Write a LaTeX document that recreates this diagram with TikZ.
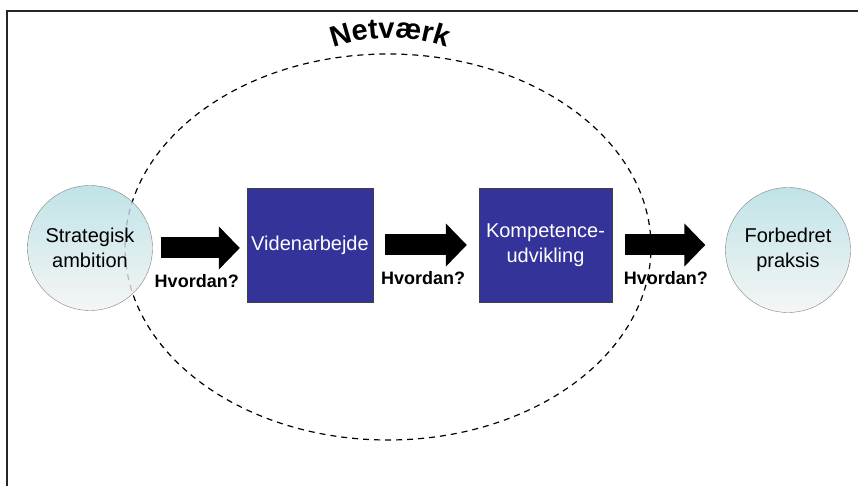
\documentclass[tikz,border=0pt]{standalone}
\usepackage{fontspec}
\setmainfont{Liberation Sans}
\usetikzlibrary{arrows.meta,decorations.text}
\definecolor{boxblue}{RGB}{51,51,153}
\definecolor{circtop}{RGB}{176,220,225}
\definecolor{circbot}{RGB}{243,243,243}
\tikzset{
  goal/.style={circle, draw=gray, minimum size=125pt, inner sep=0pt,
    top color=circtop, bottom color=circbot, fill opacity=0.8, text opacity=1,
    align=center, font=\fontsize{20}{25}\selectfont},
  work/.style={rectangle, draw=gray!50!black, fill=boxblue, text=white,
    minimum height=114pt, inner sep=0pt, align=center,
    font=\fontsize{20}{25}\selectfont},
  bigarrow/.style={line width=21pt, -{Triangle[length=21pt,width=42pt]}},
  how/.style={font=\fontsize{18}{20}\selectfont\bfseries, yshift=-33pt, xshift=-3pt},
  netline/.style={dash pattern=on 6pt off 5pt, line width=1.2pt}
}
\begin{document}
\begin{tikzpicture}[x=1pt,y=1pt]
\useasboundingbox (0,0) rectangle (858,486);
\draw[line width=2.5pt, black!85] (7,0) -- (7,475) -- (858,475);
% netvaerk
\draw[netline] (388,239) ellipse [x radius=263pt, y radius=193pt];
\coordinate (arcc) at (390,279);
\path[decorate, decoration={text along path, text align=center,
  text={|\bfseries\fontsize{29}{29}\selectfont|Netværk}}]
  ([shift={(120:169pt)}]arcc) arc [start angle=120, end angle=60, radius=169pt];
% steps
\node[goal] (ambition) at (90,238) {Strategisk\\ambition};
\node[work, minimum width=126pt] (viden) at (310,241) {Videnarbejde};
\node[work, minimum width=133pt] (kompetence) at (545.5,241) {Kompetence-\\udvikling};
\node[goal] (praksis) at (788,236) {Forbedret\\praksis};
\draw[bigarrow, shorten <=8pt, shorten >=7pt] (ambition.east) -- (ambition.east -| viden.west)
  node[midway, how] {Hvordan?};
\draw[bigarrow, shorten <=12pt, shorten >=12pt] (viden) -- (kompetence)
  node[midway, how] {Hvordan?};
\draw[bigarrow, shorten <=13pt, shorten >=20pt] (kompetence.east) -- (kompetence.east -| praksis.west)
  node[midway, how] {Hvordan?};
\end{tikzpicture}
\end{document}
